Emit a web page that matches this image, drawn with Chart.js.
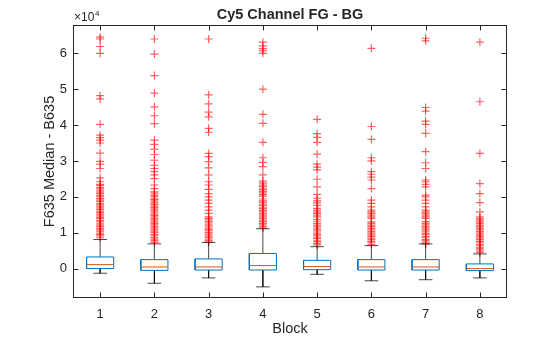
<!DOCTYPE html>
<html>
<head>
<meta charset="utf-8">
<script src="https://cdn.jsdelivr.net/npm/chart.js@4"></script>
<style>
html, body { margin: 0; padding: 0; background: #fff; }
</style>
</head>
<body>
<canvas id="boxChart" width="560" height="337"></canvas>
<script>
var blocks = [1, 2, 3, 4, 5, 6, 7, 8];
var yTicks = [0, 10000, 20000, 30000, 40000, 50000, 60000];

// box statistics
var q1 = [0, -500, -400, -400, -300, -400, -400, -560];
var medians = [1100, 450, 450, 840, 560, 450, 450, 0];
var q3 = [3240, 2500, 2700, 4200, 2300, 2500, 2500, 1300];
var whiskLow = [-1300, -4100, -2600, -5100, -1600, -3400, -3100, -2600];
var whiskHigh = [8100, 6900, 7300, 11100, 6100, 6400, 6900, 4100];

// outliers per block
var out1 = [64500, 64000, 61900, 60000, 48200, 47300, 40200, 37200, 36500, 35800, 35000, 32200, 29900, 29100, 27900, 25300, 24200,
	23500, 23100, 22600, 22200, 21700, 21300, 20900, 20400, 20000, 19500, 19100, 18700, 18200, 17800, 17400, 16900, 16500, 16000,
	15600, 15200, 14700, 14300, 13900, 13400, 13000, 12500, 12100, 11700, 11200, 10800, 10400, 9900, 9500, 9100, 8600];
var out2 = [64000, 59800, 53800, 48900, 45100, 42600, 40400, 35800, 34600, 33300, 31800, 30200, 28800, 27900, 27000, 26100, 25100, 23300, 22300,
	21400, 21000, 20500, 20100, 19600, 19200, 18800, 18300, 17900, 17400, 17000, 16600, 16100, 15700, 15200, 14800, 14400, 13900,
	13500, 13000, 12600, 12200, 11700, 11300, 10800, 10400, 10000, 9500, 9100, 8600, 8200, 7800, 7300];
var out3 = [64000, 48400, 45900, 43600, 42300, 39100, 38000, 32100, 31200, 29800, 28100, 26100, 24200, 23300, 22100, 20900, 20000, 19100,
	18200, 17200, 16300, 15400, 14400, 14000, 13600, 13100, 12700, 12200, 11800, 11300, 10900, 10500, 10000, 9600, 9100, 8700, 8200, 7800, 7400];
var out4 = [63100, 62100, 61300, 60700, 60000, 50000, 43000, 40500, 35200, 30900, 29600, 28400, 26100, 24400,
	23800, 23300, 22900, 22400, 22000, 21500, 21100, 20600, 20200, 19400, 18900, 18500, 18000, 17600, 17100, 16700, 16200, 15800,
	15300, 14900, 14400, 14000, 13500, 13100, 12600, 12200, 11700, 11300];
var out5 = [41600, 37600, 36600, 35200, 31900, 29100, 28300, 27500, 24900, 22800, 20700, 19600, 18900, 18300, 17600,
	16800, 16300, 15800, 15400, 14900, 14400, 13700, 13200, 12600, 12100, 11600, 11100, 10700, 10200, 9700, 9300, 8800, 8400, 7900, 7500, 7000, 6600];
var out6 = [61400, 39600, 36000, 30900, 30000, 27000, 26300, 25500, 24700, 22300, 19100, 18200, 17200,
	16300, 15800, 15400, 14900, 14400, 14000, 13000, 12600, 12100, 11700, 11200, 10800, 10300, 9900, 9400, 9000, 8500, 8100, 7600, 7200, 6700];
var out7 = [64200, 63500, 44900, 43900, 41100, 40200, 37700, 32600, 29500, 27900, 24700, 24200, 23500, 22800, 20500, 20000, 19100, 18200, 17200,
	16300, 15800, 15400, 14900, 14400, 14000, 13100, 12600, 12200, 11700, 11300, 10800, 10400, 9900, 9500, 9000, 8600, 8100, 7700, 7200, 6800];
var out8 = [63100, 46500, 32100, 23700, 20900, 18400, 15800,
	14400, 13900, 13500, 13000, 12600, 12100, 11700, 11200, 10800, 10300, 9900, 9400, 9000, 8500, 8100, 7600, 7200, 6700, 6300, 5800, 5400, 4900, 4500];
var outliers = [out1, out2, out3, out4, out5, out6, out7, out8];

var textColor = "#262626";
var fontFamily = "'Liberation Sans', Arial, Helvetica, sans-serif";

// build line pieces, null breaks the line between pieces
var boxPts = [], medPts = [], whiskPts = [], outPts = [];
blocks.forEach(function (b, i) {
	boxPts.push({x: b - 0.25, y: q1[i]}, {x: b + 0.25, y: q1[i]}, {x: b + 0.25, y: q3[i]},
		{x: b - 0.25, y: q3[i]}, {x: b - 0.25, y: q1[i]}, {x: b, y: null});
	medPts.push({x: b - 0.25, y: medians[i]}, {x: b + 0.25, y: medians[i]}, {x: b, y: null});
	whiskPts.push({x: b, y: q3[i]}, {x: b, y: whiskHigh[i]}, {x: b, y: null},
		{x: b - 0.125, y: whiskHigh[i]}, {x: b + 0.125, y: whiskHigh[i]}, {x: b, y: null},
		{x: b, y: q1[i]}, {x: b, y: whiskLow[i]}, {x: b, y: null},
		{x: b - 0.125, y: whiskLow[i]}, {x: b + 0.125, y: whiskLow[i]}, {x: b, y: null});
	outliers[i].forEach(function (v) {
		outPts.push({x: b, y: v});
	});
});

var axesBox = {
	id: "axesBox",
	afterDraw: function (chart) {
		var ctx = chart.ctx, a = chart.chartArea;
		var xs = chart.scales.x, ys = chart.scales.y;
		var l = Math.round(a.left) + 0.5, r = Math.round(a.right) - 0.5;
		var t = Math.round(a.top) + 0.5, btm = Math.round(a.bottom) - 0.5;
		ctx.save();
		ctx.strokeStyle = textColor;
		ctx.lineWidth = 1;
		ctx.strokeRect(l, t, r - l, btm - t);
		ctx.beginPath();
		blocks.forEach(function (b) {
			var px = Math.round(xs.getPixelForValue(b)) + 0.5;
			ctx.moveTo(px, btm); ctx.lineTo(px, btm - 5);
			ctx.moveTo(px, t); ctx.lineTo(px, t + 5);
		});
		yTicks.forEach(function (v) {
			var py = Math.round(ys.getPixelForValue(v)) + 0.5;
			ctx.moveTo(l, py); ctx.lineTo(l + 5, py);
			ctx.moveTo(r, py); ctx.lineTo(r - 5, py);
		});
		ctx.stroke();

		var cx = (a.left + a.right) / 2;
		ctx.fillStyle = textColor;
		ctx.textAlign = "center";
		ctx.textBaseline = "alphabetic";
		ctx.font = "bold 14.5px " + fontFamily;
		ctx.fillText("Cy5 Channel FG - BG", cx, 19);
		ctx.font = "14.5px " + fontFamily;
		ctx.fillText("Block", cx, 333);

		ctx.save();
		ctx.translate(54, (a.top + a.bottom) / 2);
		ctx.rotate(-Math.PI / 2);
		ctx.fillText("F635 Median - B635", 0, 0);
		ctx.restore();

		ctx.textAlign = "left";
		ctx.font = "12px " + fontFamily;
		ctx.fillText("\u00d710", 74, 20.5);
		ctx.font = "8px " + fontFamily;
		ctx.fillText("4", 95, 16);
		ctx.restore();
	}
};

var boxChart = new Chart(document.getElementById("boxChart"), {
	type: "scatter",
	data: {
		datasets: [
			{
				label: "Median",
				data: medPts,
				showLine: true,
				spanGaps: false,
				borderColor: "#D95319",
				borderWidth: 1,
				pointRadius: 0,
				order: 1
			},
			{
				label: "Box",
				data: boxPts,
				showLine: true,
				spanGaps: false,
				borderColor: "#0072BD",
				borderWidth: 1,
				pointRadius: 0,
				order: 2
			},
			{
				label: "Whisker",
				data: whiskPts,
				showLine: true,
				spanGaps: false,
				borderColor: "rgba(0,0,0,0.72)",
				borderWidth: 1,
				pointRadius: 0,
				order: 3
			},
			{
				label: "Outliers",
				data: outPts,
				showLine: false,
				pointStyle: "cross",
				pointRadius: 4,
				borderColor: "rgba(255,0,0,0.62)",
				pointBorderWidth: 1.2,
				order: 4
			}
		]
	},
	options: {
		responsive: false,
		animation: false,
		events: [],
		layout: { padding: { top: 25, right: 53, left: 0, bottom: 0 } },
		plugins: {
			legend: { display: false },
			tooltip: { enabled: false },
			title: { display: false }
		},
		scales: {
			x: {
				type: "linear",
				min: 0.5,
				max: 8.5,
				grid: { display: false, drawTicks: false },
				border: { display: false },
				afterBuildTicks: function (scale) {
					scale.ticks = blocks.map(function (b) { return {value: b}; });
				},
				afterFit: function (scale) { scale.height = 39; },
				ticks: {
					color: textColor,
					padding: 9,
					maxRotation: 0,
					font: { family: fontFamily, size: 13 },
					callback: function (v) { return String(v); }
				}
			},
			y: {
				type: "linear",
				min: -8200,
				max: 67900,
				grid: { display: false, drawTicks: false },
				border: { display: false },
				afterBuildTicks: function (scale) {
					scale.ticks = yTicks.map(function (v) { return {value: v}; });
				},
				afterFit: function (scale) { scale.width = 73; },
				ticks: {
					color: textColor,
					padding: 6,
					font: { family: fontFamily, size: 13 },
					callback: function (v) { return String(v / 10000); }
				}
			}
		}
	},
	plugins: [axesBox]
});
</script>
</body>
</html>
